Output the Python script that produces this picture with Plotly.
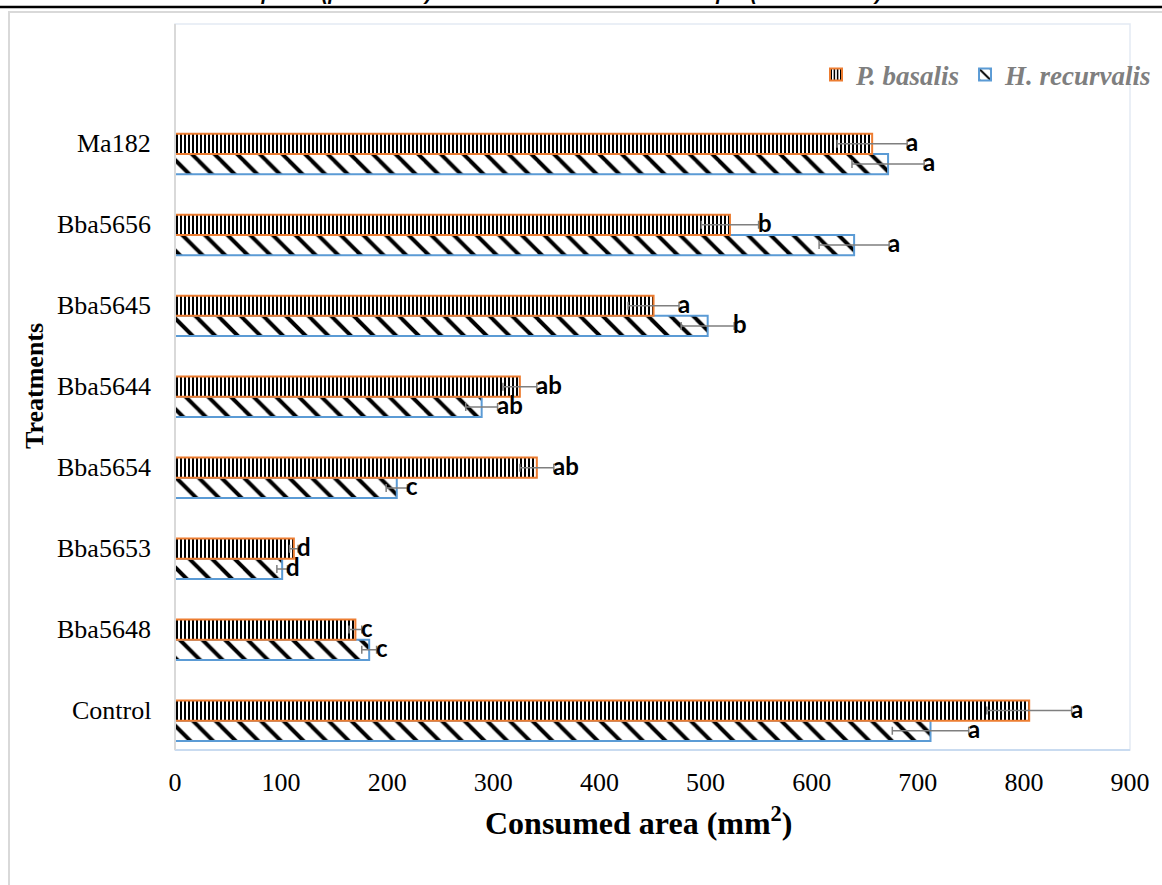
import plotly.graph_objects as go

categories = ["Control", "Bba5648", "Bba5653", "Bba5654", "Bba5644", "Bba5645", "Bba5656", "Ma182"]
pb_values = [805, 170, 112, 341, 325, 451, 523, 657]
pb_errors = [40, 6, 4, 16, 16, 24, 27, 33]
pb_letters = ["a", "c", "d", "ab", "ab", "a", "b", "a"]
hr_values = [712, 183, 101, 209, 289, 502, 640, 672]
hr_errors = [36, 7, 5, 10, 15, 25, 33, 34]
hr_letters = ["a", "c", "d", "c", "ab", "b", "a", "a"]
x_ticks = [0, 100, 200, 300, 400, 500, 600, 700, 800, 900]
x_axis_max = 900

W, H = 1162, 885
# plot frame in pixels (the visible axis box ends at AX_R; paper domain runs to the page edge
# so the legend can sit to the right of the box without pushing margins)
L, AX_R, T, B = 175, 1130, 24, 750
R = W
x_range_max = x_axis_max * (R - L) / (AX_R - L)

def px(x):
    return (x - L) / (R - L)

def py(y):
    return (B - y) / (B - T)

serif = "Liberation Serif"

fig = go.Figure()
fig.add_trace(go.Bar(
    name="H. recurvalis", y=categories, x=hr_values, orientation="h",
    marker=dict(color="white", line=dict(color="#5B9BD5", width=2),
                pattern=dict(shape="\\", size=16, solidity=0.25, fgcolor="black", bgcolor="white", fillmode="replace")),
    error_x=dict(type="data", array=hr_errors, visible=True, color="#7f7f7f", thickness=1.5, width=4),
    legendrank=2,
))
fig.add_trace(go.Bar(
    name="P. basalis", y=categories, x=pb_values, orientation="h",
    marker=dict(color="white", line=dict(color="#ED7D31", width=2),
                pattern=dict(shape="|", size=4, solidity=0.5, fgcolor="black", bgcolor="white", fillmode="replace")),
    error_x=dict(type="data", array=pb_errors, visible=True, color="#7f7f7f", thickness=1.5, width=4),
    legendrank=1,
))

annotations = []
lab_font = dict(family="Lato", size=24, color="black", weight="bold")
for c, v, e, t in zip(categories, pb_values, pb_errors, pb_letters):
    annotations.append(dict(x=v + e, y=c, xref="x", yref="y", text=t, showarrow=False,
                            xanchor="left", yanchor="middle", xshift=-3, yshift=12, font=lab_font))
for c, v, e, t in zip(categories, hr_values, hr_errors, hr_letters):
    annotations.append(dict(x=v + e, y=c, xref="x", yref="y", text=t, showarrow=False,
                            xanchor="left", yanchor="middle", xshift=-3, yshift=-8, font=lab_font))

for c in categories:
    annotations.append(dict(x=px(153), y=c, xref="paper", yref="y", text=c, showarrow=False,
                            xanchor="right", yanchor="middle", yshift=10,
                            font=dict(family=serif, size=26, color="black")))

annotations.append(dict(x=px(638), y=py(821), xref="paper", yref="paper", text="Consumed area (mm<sup>2</sup>)",
                        showarrow=False, xanchor="center", yanchor="middle",
                        font=dict(family=serif, size=32, color="black", weight="bold")))
annotations.append(dict(x=px(34), y=py(386), xref="paper", yref="paper", text="Treatments", textangle=-90,
                        showarrow=False, xanchor="center", yanchor="middle",
                        font=dict(family=serif, size=26, color="black", weight="bold")))
annotations.append(dict(x=px(590), y=py(6), xref="paper", yref="paper",
                        text="ISSN imprimé (print ISSN) : 1025-2355 et ISSN électronique (on-line ISSN) : 1016-7690",
                        showarrow=False, xanchor="center", yanchor="bottom",
                        font=dict(family="Liberation Sans", size=20, color="black", weight="bold", style="italic")))

shapes = [
    dict(type="line", xref="paper", yref="paper", x0=px(-5), x1=px(1170), y0=py(7), y1=py(7),
         line=dict(color="black", width=2.5)),
    dict(type="rect", xref="paper", yref="paper", x0=px(9), x1=px(1175), y0=py(900), y1=py(12),
         line=dict(color="#d9d9d9", width=2), layer="below"),
    dict(type="rect", xref="paper", yref="paper", x0=0, x1=px(AX_R), y0=0, y1=1,
         line=dict(color="#e3eaf3", width=1.5), layer="below"),
    dict(type="line", xref="paper", yref="paper", x0=0, x1=px(AX_R), y0=0, y1=0,
         line=dict(color="#c9dbf0", width=2)),
    dict(type="line", xref="paper", yref="paper", x0=0, x1=0, y0=0, y1=1,
         line=dict(color="#d9d9d9", width=2)),
]

fig.update_layout(
    width=W, height=H,
    margin=dict(l=L, r=W - R, t=T, b=H - B),
    paper_bgcolor="white", plot_bgcolor="white",
    barmode="group", bargap=0.5, bargroupgap=0,
    showlegend=True,
    legend=dict(orientation="h", x=px(1157), xanchor="right", y=py(75), yanchor="middle",
                font=dict(family=serif, size=27, color="#7f7f7f", weight="bold", style="italic"),
                bgcolor="rgba(0,0,0,0)", itemwidth=30, tracegroupgap=0),
    xaxis=dict(range=[0, x_range_max], tickvals=x_ticks, ticktext=[str(v) for v in x_ticks],
               showgrid=False, zeroline=False, showline=False, ticks="",
               tickfont=dict(family=serif, size=26, color="black"), ticklabelstandoff=14, fixedrange=True),
    yaxis=dict(categoryorder="array", categoryarray=categories, range=[-0.362, 8.605],
               showgrid=False, zeroline=False, showline=False, ticks="", showticklabels=False,
               fixedrange=True),
    annotations=annotations, shapes=shapes,
)

fig.write_html("out.html", config={"displayModeBar": False, "staticPlot": True},
               post_script="document.body.style.margin='0';document.body.style.overflow='hidden';")
